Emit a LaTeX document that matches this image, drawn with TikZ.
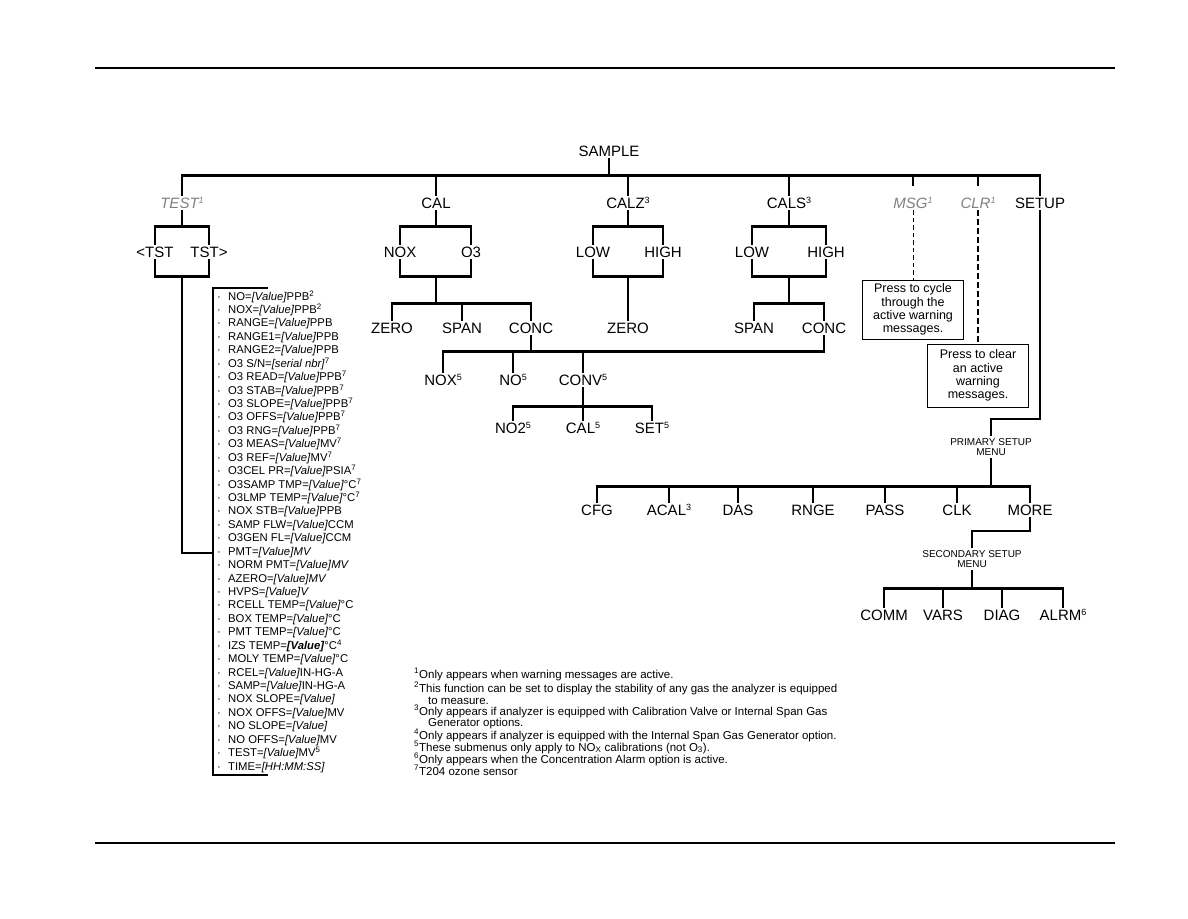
\documentclass[tikz,border=0pt]{standalone}
\usepackage{fontspec}
\setmainfont{Liberation Sans}
\definecolor{labgray}{RGB}{128,128,128}
\newcommand{\supr}[1]{{\fontsize{9}{9}\selectfont\raisebox{4.5pt}{#1}}}
\newcommand{\vv}{\textit{[Value]}}
\tikzset{
  tree/.style={line width=2.8pt},
  listbar/.style={line width=2.3pt},
  lbl/.style={font=\fontsize{15}{18}\selectfont, inner sep=2pt, text height=10.5pt, text depth=0pt},
  glbl/.style={lbl, text=labgray, font=\fontsize{15}{18}\selectfont\itshape},
  item/.style={font=\fontsize{11.3}{13}\selectfont, anchor=base west, inner sep=0pt},
  note/.style={font=\fontsize{11.5}{13}\selectfont, anchor=base west, inner sep=0pt},
  menuhead/.style={font=\fontsize{10}{10.5}\selectfont, align=center, inner sep=2pt},
  infobox/.style={draw, line width=1pt, font=\fontsize{12.5}{13.3}\selectfont, align=center, minimum width=101pt, inner sep=0pt},
  msgdash/.style={line width=0.9pt, dash pattern=on 4.5pt off 3pt},
  clrdash/.style={line width=2pt, dash pattern=on 5.5pt off 3.5pt},
  rule/.style={line width=1.4pt}
}
\begin{document}
\begin{tikzpicture}[x=1pt,y=-1pt]
\useasboundingbox (0,0) rectangle (1188,918);
% page rules
\draw[rule] (95,68) -- (1115,68);
\draw[rule] (95,843) -- (1115,843);

% level 0/1
\node[lbl] (sample) at (609,151) {SAMPLE};
\node[glbl] (test) at (182,203) {TEST\supr{1}};
\node[lbl] (cal) at (436,203) {CAL};
\node[lbl] (calz) at (628,203) {CALZ\supr{3}};
\node[lbl] (cals) at (789,203) {CALS\supr{3}};
\node[glbl] (msg) at (913,203) {MSG\supr{1}};
\node[glbl] (clr) at (978,203) {CLR\supr{1}};
\node[lbl] (setup) at (1040,203) {SETUP};

\draw[tree] (sample.south) -- ++(0,16.75) coordinate (barY);
\draw[tree] (test.north) -- (test.north |- barY) -- (setup.north |- barY) -- (setup.north);
\draw[tree] (cal.north) -- (cal.north |- barY);
\draw[tree] (calz.north) -- (calz.north |- barY);
\draw[tree] (cals.north) -- (cals.north |- barY);
\draw[tree] (msg.north |- barY) -- ++(0,11);
\draw[tree] (clr.north |- barY) -- ++(0,11);

% level 2
\node[lbl] (ltst) at (155,252) {<TST};
\node[lbl] (rtst) at (209,252) {TST>};
\node[lbl] (nox) at (400,252) {NOX};
\node[lbl] (o3) at (471,252) {O3};
\node[lbl] (lowz) at (593,252) {LOW};
\node[lbl] (highz) at (663,252) {HIGH};
\node[lbl] (lows) at (752,252) {LOW};
\node[lbl] (highs) at (826,252) {HIGH};

% brackets
\draw[tree] (ltst.north) -- ++(0,-18) coordinate (tstT) -| (rtst.north);
\draw[tree] (ltst.south) -- ++(0,17) coordinate (tstB) -| (rtst.south);
\draw[tree] (test.south) -- (test.south |- tstT);
\draw[tree] (nox.north) -- ++(0,-18) coordinate (calT) -| (o3.north);
\draw[tree] (nox.south) -- ++(0,17) coordinate (calB) -| (o3.south);
\draw[tree] (cal.south) -- (cal.south |- calT);
\draw[tree] (lowz.north) -- ++(0,-18) coordinate (czT) -| (highz.north);
\draw[tree] (lowz.south) -- ++(0,17) coordinate (czB) -| (highz.south);
\draw[tree] (calz.south) -- (calz.south |- czT);
\draw[tree] (lows.north) -- ++(0,-18) coordinate (csT) -| (highs.north);
\draw[tree] (lows.south) -- ++(0,17) coordinate (csB) -| (highs.south);
\draw[tree] (cals.south) -- (cals.south |- csT);

% TEST list
\coordinate (listJ) at (213,553);
\draw[tree] (test.south |- tstB) |- (listJ);
\draw[listbar] (268,288) -| (213,775) -- (268,775);
\foreach \t [count=\i from 0] in {
 {NO=\vv{}PPB\textsuperscript{2}},
 {NOX=\vv{}PPB\textsuperscript{2}},
 {RANGE=\vv{}PPB},
 {RANGE1=\vv{}PPB},
 {RANGE2=\vv{}PPB},
 {O3 S/N=\textit{[serial nbr]}\textsuperscript{7}},
 {O3 READ=\vv{}PPB\textsuperscript{7}},
 {O3 STAB=\vv{}PPB\textsuperscript{7}},
 {O3 SLOPE=\vv{}PPB\textsuperscript{7}},
 {O3 OFFS=\vv{}PPB\textsuperscript{7}},
 {O3 RNG=\vv{}PPB\textsuperscript{7}},
 {O3 MEAS=\vv{}MV\textsuperscript{7}},
 {O3 REF=\vv{}MV\textsuperscript{7}},
 {O3CEL PR=\vv{}PSIA\textsuperscript{7}},
 {O3SAMP TMP=\vv{}°C\textsuperscript{7}},
 {O3LMP TEMP=\vv{}°C\textsuperscript{7}},
 {NOX STB=\vv{}PPB},
 {SAMP FLW=\vv{}CCM},
 {O3GEN FL=\vv{}CCM},
 {PMT=\vv{}\textit{MV}},
 {NORM PMT=\vv{}\textit{MV}},
 {AZERO=\vv{}\textit{MV}},
 {HVPS=\vv{}\textit{V}},
 {RCELL TEMP=\vv{}°C},
 {BOX TEMP=\vv{}°C},
 {PMT TEMP=\vv{}°C},
 {IZS TEMP=\textbf{\textit{[Value]}}°C\textsuperscript{4}},
 {MOLY TEMP=\vv{}°C},
 {RCEL=\vv{}IN-HG-A},
 {SAMP=\vv{}IN-HG-A},
 {NOX SLOPE=\vv},
 {NOX OFFS=\vv{}MV},
 {NO SLOPE=\vv},
 {NO OFFS=\vv{}MV},
 {TEST=\vv{}MV\textsuperscript{5}},
 {TIME=\textit{[HH:MM:SS]}}}
{
  \node[item, anchor=base] (bu\i) at (219,{300+\i*13.43}) {·};
  \node[item] (it\i) at (228,{300+\i*13.43}) {\t};
}

% level 3
\node[lbl] (zero1) at (392,328) {ZERO};
\node[lbl] (span1) at (462,328) {SPAN};
\node[lbl] (conc1) at (531,328) {CONC};
\node[lbl] (zero2) at (628,328) {ZERO};
\node[lbl] (span2) at (754,328) {SPAN};
\node[lbl] (conc2) at (824,328) {CONC};

\draw[tree] (zero1.north) -- ++(0,-17) coordinate (calH) -| (conc1.north);
\draw[tree] (span1.north) -- (span1.north |- calH);
\draw[tree] (cal.south |- calB) -- (cal.south |- calH);
\draw[tree] (calz.south |- czB) -- (zero2.north);
\draw[tree] (span2.north) -- ++(0,-17) coordinate (csH) -| (conc2.north);
\draw[tree] (cals.south |- csB) -- (cals.south |- csH);

% level 4
\node[lbl] (nox5) at (443,380) {NOX\supr{5}};
\node[lbl] (no5) at (513,380) {NO\supr{5}};
\node[lbl] (conv5) at (583,380) {CONV\supr{5}};
\draw[tree] (conc1.south) -- ++(0,16) coordinate (concH);
\draw[tree] (nox5.north) -- (nox5.north |- concH) -- (conc2.south |- concH) -- (conc2.south);
\draw[tree] (no5.north) -- (no5.north |- concH);
\draw[tree] (conv5.north) -- (conv5.north |- concH);

% level 5
\node[lbl] (no2) at (513,428) {NO2\supr{5}};
\node[lbl] (cal5) at (583,428) {CAL\supr{5}};
\node[lbl] (set5) at (652,428) {SET\supr{5}};
\draw[tree] (conv5.south) -- ++(0,19) coordinate (convH);
\draw[tree] (no2.north) -- (no2.north |- convH) -| (set5.north);
\draw[tree] (cal5.north) -- (cal5.north |- convH);

% MSG / CLR boxes
\node[infobox, minimum height=59pt] (box1) at (913,309.5) {Press to cycle\\through the\\active warning\\messages.};
\node[infobox, minimum height=63pt] (box2) at (978,375.5) {Press to clear\\an active\\warning\\messages.};
\draw[msgdash] (msg.south) -- (box1.north);
\draw[clrdash] (clr.south) -- (box2.north);

% primary setup
\node[menuhead] (primary) at (991,447) {PRIMARY SETUP\\MENU};
\draw[tree] (primary.north) -- ++(0,-17) coordinate (sJ) -| (setup.south);
\node[lbl] (cfg) at (597,510) {CFG};
\node[lbl] (acal) at (669,510) {ACAL\supr{3}};
\node[lbl] (das) at (738,510) {DAS};
\node[lbl] (rnge) at (813,510) {RNGE};
\node[lbl] (pass) at (885,510) {PASS};
\node[lbl] (clk) at (957,510) {CLK};
\node[lbl] (more) at (1030,510) {MORE};
\draw[tree] (cfg.north) -- ++(0,-16) coordinate (pH) -| (more.north);
\draw[tree] (primary.south) -- (primary.south |- pH);
\foreach \n in {acal,das,rnge,pass,clk}{
  \draw[tree] (\n.north) -- (\n.north |- pH);
}

% secondary setup
\node[menuhead] (secondary) at (972,559) {SECONDARY SETUP\\MENU};
\draw[tree] (secondary.north) -- ++(0,-17) coordinate (mJ) -| (more.south);
\node[lbl] (comm) at (884,615) {COMM};
\node[lbl] (vars) at (943,615) {VARS};
\node[lbl] (diag) at (1002,615) {DIAG};
\node[lbl] (alrm) at (1063,615) {ALRM\supr{6}};
\draw[tree] (comm.north) -- ++(0,-19) coordinate (sH) -| (alrm.north);
\draw[tree] (secondary.south) -- (secondary.south |- sH);
\draw[tree] (vars.north) -- (vars.north |- sH);
\draw[tree] (diag.north) -- (diag.north |- sH);

% footnotes
\node[note] (fn1) at (414,678) {\textsuperscript{1}Only appears when warning messages are active.};
\node[note] (fn2) at (414,692) {\textsuperscript{2}This function can be set to display the stability of any gas the analyzer is equipped};
\node[note] (fn2b) at (428,704) {to measure.};
\node[note] (fn3) at (414,715) {\textsuperscript{3}Only appears if analyzer is equipped with Calibration Valve or Internal Span Gas};
\node[note] (fn3b) at (428,726) {Generator options.};
\node[note] (fn4) at (414,739) {\textsuperscript{4}Only appears if analyzer is equipped with the Internal Span Gas Generator option.};
\node[note] (fn5) at (414,751) {\textsuperscript{5}These submenus only apply to NO\textsubscript{X} calibrations (not O\textsubscript{3}).};
\node[note] (fn6) at (414,763) {\textsuperscript{6}Only appears when the Concentration Alarm option is active.};
\node[note] (fn7) at (414,775) {\textsuperscript{7}T204 ozone sensor};
\end{tikzpicture}
\end{document}
